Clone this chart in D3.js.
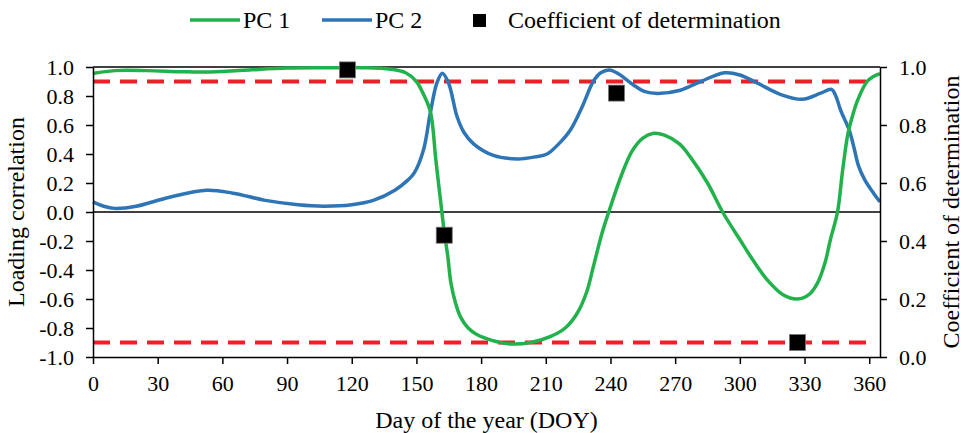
<!DOCTYPE html>
<html>
<head>
<meta charset="utf-8">
<script src="https://cdn.jsdelivr.net/npm/d3@7"></script>
<style>
  body { margin: 0; background: #fff; }
</style>
</head>
<body>
<svg id="chart"></svg>
<script>
const FONT = "'Liberation Serif', 'Times New Roman', Times, serif";

// PC 1 loading correlation by DOY
const pc1Doy = [0, 10, 25, 40, 52, 70, 90, 110, 125, 138, 145, 150, 153, 156.5, 159, 161.8, 163, 164.5, 166, 168, 170.3, 174, 178, 185, 193.5, 203, 212, 219, 224.5, 229, 232, 236, 239.2, 245, 250, 255, 260, 265, 272, 277, 285, 292, 300, 306, 312.8, 320, 326.7, 332, 336, 339.5, 342, 345.3, 347.6, 350, 352, 354.6, 359, 362, 365];
const pc1Val = [0.955, 0.975, 0.975, 0.968, 0.965, 0.978, 0.993, 0.995, 0.995, 0.985, 0.96, 0.90, 0.82, 0.69, 0.36, 0.0, -0.15, -0.30, -0.49, -0.62, -0.72, -0.80, -0.845, -0.885, -0.91, -0.90, -0.86, -0.80, -0.70, -0.55, -0.38, -0.15, 0.0, 0.25, 0.42, 0.51, 0.543, 0.53, 0.47, 0.38, 0.2, 0.0, -0.19, -0.33, -0.47, -0.57, -0.60, -0.57, -0.49, -0.35, -0.19, 0.0, 0.28, 0.53, 0.65, 0.77, 0.90, 0.935, 0.955];

// PC 2 loading correlation by DOY
const pc2Doy = [0, 5, 10, 20, 35, 52.7, 65, 80, 95, 107, 120, 130, 140, 146, 149, 153.3, 156.4, 159.5, 162, 164.9, 168.8, 172, 176.5, 185.7, 196.7, 205, 210.6, 216, 221.4, 227, 232, 235.5, 239.5, 244, 250.7, 256, 262, 272.4, 281.8, 293, 300, 308, 319, 329, 337.5, 342.5, 344.5, 346.8, 350.7, 353, 355, 358, 362, 365];
const pc2Val = [0.07, 0.04, 0.025, 0.04, 0.10, 0.15, 0.13, 0.08, 0.05, 0.04, 0.05, 0.08, 0.15, 0.22, 0.27, 0.43, 0.68, 0.89, 0.957, 0.89, 0.66, 0.55, 0.47, 0.39, 0.366, 0.38, 0.40, 0.47, 0.566, 0.73, 0.90, 0.96, 0.98, 0.95, 0.876, 0.83, 0.818, 0.84, 0.90, 0.96, 0.945, 0.89, 0.81, 0.777, 0.82, 0.846, 0.80, 0.70, 0.566, 0.44, 0.32, 0.22, 0.13, 0.07];

// coefficient of determination (right axis)
const r2Doy = [118, 162.9, 242.8, 326.7];
const r2Val = [0.99, 0.42, 0.91, 0.05];

const thresholds = [0.9, -0.9];
const xTicks = [0, 30, 60, 90, 120, 150, 180, 210, 240, 270, 300, 330, 360];
const yTicks = [-1.0, -0.8, -0.6, -0.4, -0.2, 0.0, 0.2, 0.4, 0.6, 0.8, 1.0];
const y2Ticks = [0.0, 0.2, 0.4, 0.6, 0.8, 1.0];

const W = 964, H = 433;
const margin = { top: 67, right: 84, bottom: 76, left: 93 };
const width = W - margin.left - margin.right;
const height = H - margin.top - margin.bottom;

const svg = d3.select("#chart").attr("width", W).attr("height", H)
  .attr("font-family", FONT);
const g = svg.append("g").attr("transform", `translate(${margin.left},${margin.top})`);

const x = d3.scaleLinear().domain([0, 365]).range([0, width]);
const y = d3.scaleLinear().domain([-1, 1]).range([height, 0]);
const y2 = d3.scaleLinear().domain([0, 1]).range([height, 0]);

// top border and zero line
g.append("line").attr("x1", 0).attr("x2", width).attr("y1", 0).attr("y2", 0)
  .attr("stroke", "#000").attr("stroke-width", 1.5);
g.append("line").attr("x1", 0).attr("x2", width).attr("y1", y(0)).attr("y2", y(0))
  .attr("stroke", "#000").attr("stroke-width", 1.5);

// threshold dashed lines
g.selectAll(".thr").data(thresholds).enter().append("line")
  .attr("x1", 0).attr("x2", x(362)).attr("y1", d => y(d)).attr("y2", d => y(d))
  .attr("stroke", "#ee1f26").attr("stroke-width", 4).attr("stroke-dasharray", "17,10");

const line = d3.line().x(d => x(d[0])).y(d => y(d[1])).curve(d3.curveCatmullRom.alpha(0.5));

g.append("path").datum(pc2Doy.map((d, i) => [d, pc2Val[i]]))
  .attr("d", line).attr("fill", "none").attr("stroke", "#2e75b6").attr("stroke-width", 3.5);
g.append("path").datum(pc1Doy.map((d, i) => [d, pc1Val[i]]))
  .attr("d", line).attr("fill", "none").attr("stroke", "#21b24b").attr("stroke-width", 3.5);

// r2 squares
const sq = 16;
g.selectAll(".sq").data(r2Doy).enter().append("rect")
  .attr("x", d => x(d) - sq / 2)
  .attr("y", (d, i) => y2(r2Val[i]) - sq / 2)
  .attr("width", sq).attr("height", sq)
  .attr("fill", "#000").attr("stroke", "#777").attr("stroke-width", 0.8);

// axes
const styleAxis = sel => {
  sel.attr("font-family", FONT).attr("font-size", 22);
  sel.select(".domain").attr("stroke", "#000").attr("stroke-width", 1.5);
  sel.selectAll(".tick line").attr("stroke", "#000").attr("stroke-width", 1.5);
  sel.selectAll(".tick text").attr("fill", "#000");
};

g.append("g").attr("transform", `translate(0,${height})`)
  .call(d3.axisBottom(x).tickValues(xTicks).tickSize(7).tickPadding(11).tickSizeOuter(0).tickFormat(d3.format("d")))
  .call(styleAxis);

g.append("g")
  .call(d3.axisLeft(y).tickValues(yTicks).tickSize(7).tickPadding(12).tickSizeOuter(0).tickFormat(d => d3.format(".1f")(d).replace("−", "-")))
  .call(styleAxis);

g.append("g").attr("transform", `translate(${width},0)`)
  .call(d3.axisRight(y2).tickValues(y2Ticks).tickSize(7).tickPadding(12).tickSizeOuter(0).tickFormat(d3.format(".1f")))
  .call(styleAxis);

// axis titles
svg.append("text").attr("x", margin.left + width / 2).attr("y", 428)
  .attr("text-anchor", "middle").attr("font-size", 24).text("Day of the year (DOY)");
svg.append("text").attr("transform", `translate(24,${margin.top + height / 2}) rotate(-90)`)
  .attr("text-anchor", "middle").attr("font-size", 24).text("Loading correlation");
svg.append("text").attr("transform", `translate(959,${margin.top + height / 2}) rotate(-90)`)
  .attr("text-anchor", "middle").attr("font-size", 24).text("Coefficient of determination");

// legend
const legend = svg.append("g").attr("font-size", 24);
const legendItems = [
  { label: "PC 1", color: "#21b24b", type: "line", x: 190 },
  { label: "PC 2", color: "#2e75b6", type: "line", x: 322 },
  { label: "Coefficient of determination", color: "#000", type: "square", x: 473 }
];
legendItems.forEach(it => {
  if (it.type === "line") {
    legend.append("line").attr("x1", it.x).attr("x2", it.x + 50).attr("y1", 20).attr("y2", 20)
      .attr("stroke", it.color).attr("stroke-width", 3.5);
    legend.append("text").attr("x", it.x + 53).attr("y", 28).text(it.label);
  } else {
    legend.append("rect").attr("x", it.x).attr("y", 14).attr("width", 13).attr("height", 13).attr("fill", it.color);
    legend.append("text").attr("x", it.x + 35).attr("y", 28).text(it.label);
  }
});
</script>
</body>
</html>
